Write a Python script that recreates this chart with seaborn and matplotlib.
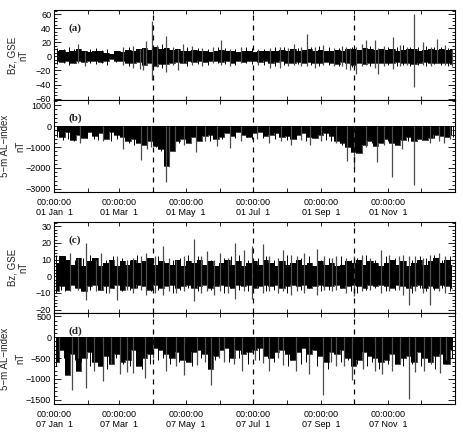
import numpy as np
import pandas as pd
import matplotlib
matplotlib.use("Agg")
import matplotlib.pyplot as plt
import seaborn as sns
from matplotlib.ticker import MultipleLocator, FixedLocator

sns.set_style("ticks")
plt.rcParams['font.family'] = ['Liberation Sans', 'DejaVu Sans']
plt.rcParams['axes.unicode_minus'] = True

# ---------------- data ----------------
BIN_DAYS = 5  # envelope arrays are one value per 5-day bin (73 bins)

# (a) 2001 Bz GSE core envelope, nT
a_hi = [7, 9, 6, 8, 10, 7, 6, 8, 7, 5,
        4, 7, 6, 9, 8, 10, 12, 9, 14, 11,
        12, 9, 10, 8, 7, 9, 8, 7, 6, 8,
        9, 7, 8, 6, 7, 8, 6, 7, 8, 7,
        8, 9, 7, 10, 8, 9, 10, 8, 9, 7,
        8, 9, 7, 10, 11, 9, 12, 10, 9, 11,
        9, 10, 8, 9, 10, 11, 8, 9, 10, 9,
        11, 9, 10]
a_lo = [-7, -8, -6, -9, -7, -8, -6, -7, -8, -6,
        -4, -7, -6, -9, -10, -8, -12, -10, -13, -11,
        -11, -9, -8, -9, -7, -8, -7, -8, -6, -7,
        -8, -7, -9, -6, -8, -7, -7, -8, -7, -9,
        -8, -7, -9, -10, -8, -9, -8, -9, -10, -8,
        -9, -11, -8, -10, -12, -9, -11, -10, -9, -10,
        -10, -9, -8, -10, -9, -11, -9, -8, -10, -9,
        -9, -10, -11]
# large spikes: day, low, high
a_spk_day = [22, 28, 63, 72, 78, 81, 84, 89.6, 94, 102, 108, 113, 117, 126, 135, 145,
             152, 160, 170, 186, 197, 206, 213, 218, 225, 230, 238, 245, 255, 262,
             266, 269, 275, 280, 284, 292, 295, 300, 309, 315, 321, 327.6, 336, 343,
             349, 356, 362]
a_spk_lo = [-10, -14, -12, -16, -18, -20, -12, -34, -15, -22, -12, -20, -10, -12, -14, -10,
            -12, -13, -10, -12, -16, -17, -14, -12, -13, -14, -16, -12, -14, -13,
            -18, -20, -25, -14, -12, -16, -25, -14, -18, -14, -12, -43, -12, -14,
            -10, -12, -14]
a_spk_hi = [18, 8, 14, 15, 10, 12, 22, 50, 16, 29, 14, 10, 18, 15, 12, 14,
            23, 11, 14, 10, 12, 14, 12, 18, 14, 32, 13, 16, 12, 15,
            13, 12, 14, 18, 24, 23, 12, 15, 28, 16, 14, 61, 20, 14,
            25, 16, 10]
# small spikes
a_sm_day = [3, 9, 14, 18, 33, 38, 44, 48, 56, 68,
            98, 121, 131, 140, 149, 156, 165, 175, 180, 191,
            201, 209, 222, 234, 241, 250, 259, 271, 288, 304,
            312, 318, 324, 331, 339, 346, 352, 359]
a_sm_lo = [-11, -9, -12, -10, -9, -11, -10, -12, -8, -13,
           -16, -13, -11, -12, -10, -11, -12, -10, -11, -12,
           -13, -12, -11, -12, -13, -12, -14, -15, -13, -12,
           -14, -12, -13, -12, -14, -11, -12, -13]
a_sm_hi = [12, 10, 13, 11, 10, 12, 9, 11, 8, 13,
           17, 14, 12, 11, 13, 12, 11, 13, 12, 11,
           13, 14, 12, 13, 15, 13, 12, 14, 15, 14,
           13, 16, 14, 13, 15, 14, 13, 12]

# (b) 2001 5-min AL index core lower envelope, nT
b_lo = [-250, -500, -300, -650, -400, -550, -300, -450, -350, -600,
        -300, -400, -500, -700, -600, -800, -900, -700, -950, -1100,
        -1900, -1200, -700, -600, -800, -500, -700, -450, -400, -600,
        -500, -350, -450, -300, -400, -500, -350, -300, -450, -400,
        -350, -500, -450, -600, -400, -350, -500, -550, -400, -350,
        -450, -700, -800, -1000, -1250, -1300, -900, -700, -950, -800,
        -600, -800, -900, -650, -500, -700, -600, -650, -550, -400,
        -450, -500, -400]
b_spk_day = [24, 45, 63, 78.8, 85, 88, 101.5, 105, 110, 118, 129, 137, 148, 160, 170,
             185, 196, 207, 216, 225, 233, 243, 257, 267, 273.5, 284, 294, 300, 308,
             317, 327.6, 335, 342, 350, 355, 360]
b_spk_lo = [-800, -720, -1100, -1600, -1100, -1000, -2650, -1500, -1000, -900, -1260,
            -700, -950, -1030, -700, -600, -800, -700, -880, -650, -880, -700, -800,
            -1650, -2000, -1000, -1720, -900, -2450, -1100, -2800, -600, -800, -700,
            -800, -600]
b_sm_day = [3, 8, 13, 18, 30, 36, 40, 52, 57, 68,
            73, 93, 97, 114, 123, 133, 142, 153, 165, 176,
            180, 190, 201, 212, 220, 229, 238, 248, 252, 262,
            278, 289, 304, 313, 322, 331, 346, 363]
b_sm_lo = [-500, -650, -600, -700, -550, -600, -650, -700, -600, -800,
           -900, -1000, -1200, -800, -700, -650, -700, -600, -550, -500,
           -600, -550, -600, -650, -600, -700, -550, -650, -700, -900,
           -1100, -800, -700, -800, -700, -600, -550, -500]

# (c) 2007 Bz GSE core envelope, nT
c_hi = [8, 12, 10, 7, 11, 6, 9, 11, 6, 8,
        10, 6, 9, 7, 10, 8, 9, 11, 7, 9,
        8, 7, 10, 6, 9, 8, 10, 7, 9, 6,
        8, 10, 7, 9, 6, 8, 9, 7, 10, 8,
        6, 9, 7, 8, 10, 7, 8, 6, 9, 7,
        8, 6, 7, 9, 8, 10, 7, 9, 8, 6,
        8, 10, 7, 9, 6, 8, 10, 7, 9, 11,
        8, 10, 7]
c_lo = [-9, -6, -8, -5, -7, -9, -6, -5, -8, -6,
        -7, -5, -8, -6, -7, -5, -6, -8, -5, -7,
        -6, -5, -7, -6, -5, -7, -6, -5, -7, -6,
        -5, -6, -7, -5, -6, -5, -7, -6, -5, -6,
        -5, -7, -6, -5, -6, -5, -7, -6, -5, -6,
        -6, -5, -7, -6, -5, -6, -7, -5, -6, -5,
        -6, -7, -5, -6, -7, -6, -5, -7, -6, -7,
        -5, -6, -7]
c_spk_day = [15, 22, 29, 38, 43, 50, 57, 66, 72, 79, 84, 92, 99, 105, 111, 118, 127.3,
             134, 139, 146, 151, 158, 164.6, 173, 180, 190, 196, 204, 208, 216, 221,
             228, 239, 246, 253, 257, 266, 273, 280, 288, 298, 305, 314, 318, 323,
             329, 336, 342, 350, 356]
c_spk_lo = [-9, -8, -14, -9, -8, -10, -14, -8, -10, -8, -11, -10, -11, -9, -10, -9, -15,
            -10, -9, -11, -9, -10, -13.6, -9, -13.6, -10, -9, -10, -9, -11, -9,
            -10, -11, -8, -9, -8, -10, -12, -9, -8, -10, -9, -8, -11, -17,
            -9, -10, -17, -9, -10]
c_spk_hi = [14, 11, 20, 10, 14, 9, 12, 10, 11, 12, 14, 12, 18, 11, 10, 12, 22.4,
            12, 15, 10, 14, 11, 20, 16, 18, 19.6, 12, 11, 16, 13, 12,
            14, 16.6, 12, 11, 12, 11, 12, 13, 11, 16, 13, 12, 13, 12,
            12, 11, 13, 14, 12]
c_sm_day = [2, 6, 10, 19, 26, 33, 47, 54, 62, 69,
            76, 88, 95, 108, 115, 122, 131, 143, 155, 161,
            168, 177, 186, 193, 200, 212, 225, 232, 243, 250,
            261, 270, 276, 284, 292, 302, 310, 326, 333, 339,
            346, 353, 360]
c_sm_lo = [-10, -8, -9, -7, -9, -8, -10, -7, -9, -8,
           -7, -9, -8, -10, -8, -7, -9, -8, -10, -7,
           -8, -9, -7, -9, -8, -10, -8, -7, -9, -8,
           -7, -9, -10, -8, -7, -9, -8, -10, -7, -9,
           -8, -7, -9]
c_sm_hi = [13, 11, 12, 10, 11, 13, 10, 12, 11, 10,
           13, 11, 12, 10, 11, 13, 12, 10, 11, 12,
           13, 10, 11, 12, 10, 13, 11, 12, 10, 11,
           12, 10, 11, 13, 10, 12, 11, 10, 12, 11,
           13, 10, 12]

# (d) 2007 5-min AL index core lower envelope, nT
d_lo = [-600, -300, -900, -400, -800, -500, -350, -600, -700, -450,
        -650, -400, -600, -550, -300, -700, -500, -400, -250, -300,
        -400, -500, -350, -550, -600, -350, -300, -400, -750, -450,
        -300, -250, -500, -300, -400, -350, -300, -250, -450, -500,
        -350, -300, -400, -550, -350, -250, -400, -300, -450, -600,
        -350, -400, -300, -500, -700, -550, -350, -450, -500, -600,
        -550, -400, -650, -500, -450, -600, -350, -500, -600, -450,
        -400, -650, -300]
d_spk_day = [5, 16, 22, 29, 36, 45, 52, 60, 66, 72, 83, 90, 102, 111, 118, 130, 137,
             143, 150, 155, 164, 171, 183, 190, 196, 204, 208, 220, 232, 245, 252,
             257, 264, 271, 281, 292, 299, 308, 315, 323, 329, 337, 343, 351, 357]
d_spk_lo = [-480, -1270, -500, -1210, -800, -1055, -650, -870, -830, -850, -980, -500,
            -800, -700, -910, -675, -600, -1150, -500, -600, -635, -800, -550, -620,
            -800, -500, -675, -800, -870, -1390, -600, -700, -700, -1015, -750, -800,
            -870, -800, -600, -1490, -830, -800, -650, -860, -550]
d_sm_day = [2, 9, 12, 19, 25, 33, 40, 48, 56, 63,
            69, 76, 80, 87, 95, 99, 106, 114, 122, 126,
            134, 147, 159, 168, 177, 187, 200, 213, 216, 225,
            229, 239, 249, 261, 268, 276, 285, 289, 296, 304,
            312, 318, 326, 334, 340, 347, 354, 362]
d_sm_lo = [-700, -500, -650, -550, -600, -700, -550, -750, -500, -650,
           -700, -600, -750, -650, -550, -500, -650, -600, -550, -700,
           -500, -550, -600, -500, -650, -550, -600, -700, -550, -650,
           -600, -700, -750, -600, -550, -650, -700, -600, -750, -650,
           -550, -700, -650, -700, -600, -750, -650, -500]
AL_TOP = 15  # AL core upper edge, nT

month_start = [0, 31, 59, 90, 120, 151, 181, 212, 243, 273, 304, 334]
month_names = ['Jan', 'Feb', 'Mar', 'Apr', 'May', 'Jun',
               'Jul', 'Aug', 'Sep', 'Oct', 'Nov', 'Dec']
quarter_lines = [90, 181, 273]

# ---------------- figure ----------------
W, H = 463, 432
fig = plt.figure(figsize=(W / 100, H / 100), dpi=100)


def frac(x0, y_top, x1, y_bot):
    return [x0 / W, 1 - y_bot / H, (x1 - x0) / W, (y_bot - y_top) / H]


X0, X1 = 54, 455
ax_a = fig.add_axes(frac(X0, 10, X1, 100))
ax_b = fig.add_axes(frac(X0, 100, X1, 192))
ax_c = fig.add_axes(frac(X0, 222, X1, 313))
ax_d = fig.add_axes(frac(X0, 313, X1, 404))

TICK_FS = 6.5


def style(ax, ylim, minor, yticks, letter, ylabel, labx, lsp, year=None):
    ax.set_xlim(0, 365)
    ax.set_ylim(*ylim)
    ax.xaxis.set_major_locator(FixedLocator(month_start))
    if year is None:
        ax.set_xticklabels([''] * len(month_start))
    else:
        labs = []
        for i, m in enumerate(month_names):
            labs.append('00:00:00\n%s %s  1' % (year, m) if i % 2 == 0 else '')
        ax.set_xticklabels(labs)
    ax.set_yticks(yticks)
    ax.yaxis.set_minor_locator(MultipleLocator(minor))
    ax.tick_params(axis='both', which='both', direction='in', top=True, right=True,
                   labelsize=TICK_FS, width=0.6, colors='black')
    ax.tick_params(axis='x', which='major', length=3, pad=4)
    ax.tick_params(axis='y', which='major', length=5, pad=2)
    ax.tick_params(axis='y', which='minor', length=2.5)
    for s in ax.spines.values():
        s.set_linewidth(0.8)
        s.set_color('black')
    for q in quarter_lines:
        ax.axvline(q, color='black', lw=0.9, ls=(0, (4, 4)), zorder=5)
    ax.text(0.035, 0.80, letter, transform=ax.transAxes, fontsize=8,
            fontweight='bold', family=['Liberation Serif', 'DejaVu Serif'],
            va='center', ha='left', zorder=6)
    ax.set_ylabel(ylabel, fontsize=7, linespacing=lsp)
    ax.yaxis.set_label_coords(labx, 0.5)
    ax.grid(False)


def draw_bz(ax, hi, lo, sd, slo, shi, md, mlo, mhi):
    days = np.arange(len(hi)) * BIN_DAYS + 2.5
    ax.fill_between(days, lo, hi, step='mid', color='black', lw=0, zorder=2)
    ax.vlines(md, mlo, mhi, color='black', lw=0.7, zorder=3)
    ax.vlines(sd, slo, shi, color='0.3', lw=0.9, zorder=3)
    df = pd.DataFrame({'day': days, 'hi': hi, 'lo': lo})
    sns.lineplot(data=df, x='day', y='hi', drawstyle='steps-mid',
                 color='black', lw=0.5, ax=ax, zorder=2)
    sns.lineplot(data=df, x='day', y='lo', drawstyle='steps-mid',
                 color='black', lw=0.5, ax=ax, zorder=2)
    ax.set_xlabel('')


def draw_al(ax, lo, sd, slo, md, mlo):
    days = np.arange(len(lo)) * BIN_DAYS + 2.5
    ax.fill_between(days, lo, AL_TOP, step='mid', color='black', lw=0, zorder=2)
    ax.vlines(md, mlo, 0, color='black', lw=0.7, zorder=3)
    ax.vlines(sd, slo, 0, color='0.3', lw=0.9, zorder=3)
    sns.lineplot(x=days, y=lo, drawstyle='steps-mid', color='black', lw=0.5,
                 ax=ax, zorder=2)
    ax.set_xlabel('')


draw_bz(ax_a, a_hi, a_lo, a_spk_day, a_spk_lo, a_spk_hi, a_sm_day, a_sm_lo, a_sm_hi)
draw_al(ax_b, b_lo, b_spk_day, b_spk_lo, b_sm_day, b_sm_lo)
draw_bz(ax_c, c_hi, c_lo, c_spk_day, c_spk_lo, c_spk_hi, c_sm_day, c_sm_lo, c_sm_hi)
draw_al(ax_d, d_lo, d_spk_day, d_spk_lo, d_sm_day, d_sm_lo)

style(ax_a, (-62, 66), 5, [-60, -40, -20, 0, 20, 40, 60], '(a)',
      'Bz, GSE\nnT', -0.065, 1.1)
style(ax_b, (-3150, 1250), 200, [-3000, -2000, -1000, 0, 1000], '(b)',
      '5\u2212m AL\u2212index\nnT', -0.072, 1.6, year='01')
style(ax_c, (-22, 32.5), 2, [-20, -10, 0, 10, 20, 30], '(c)',
      'Bz, GSE\nnT', -0.065, 1.1)
style(ax_d, (-1600, 580), 100, [-1500, -1000, -500, 0, 500], '(d)',
      '5\u2212m AL\u2212index\nnT', -0.072, 1.6, year='07')

fig.savefig('out.png', dpi=100)
